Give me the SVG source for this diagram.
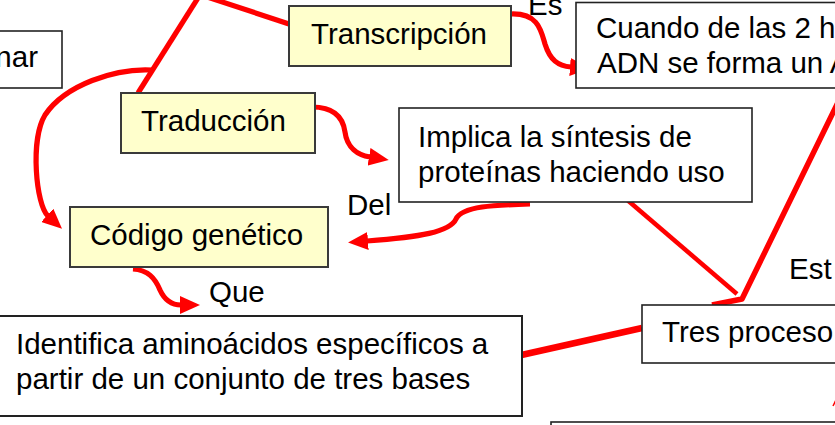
<svg xmlns="http://www.w3.org/2000/svg" width="835" height="425" viewBox="0 0 835 425">
<style>
.box{fill:#ffffff;stroke:#222222;stroke-width:1.6}
.ybox{fill:#ffffcc;stroke:#3a3a3a;stroke-width:2}
.t{font-family:"Liberation Sans",Arial,sans-serif;font-size:29.5px;fill:#000000}
.c{fill:none;stroke:#ff0000;stroke-width:5.2;stroke-linecap:butt;stroke-linejoin:round}
</style>
<defs>
<marker id="arr" markerUnits="userSpaceOnUse" markerWidth="20" markerHeight="18" viewBox="0 0 20 18" refX="1" refY="9" orient="auto">
<path d="M0,0 L20,9 L0,18 z" fill="#ff0000"/>
</marker>
</defs>
<rect width="835" height="425" fill="#ffffff"/>

<g id="connectors">
<path class="c" d="M203,-10 L138,93"/>
<path class="c" d="M186,-10 L289,24"/>
<path class="c" d="M152,70 C115,68 65,85 45,115 C30,140 36,205 48,216" marker-end="url(#arr)"/>
<path class="c" d="M511,14 C538,13 541,30 545,44 C550,60 558,66 571,67" marker-end="url(#arr)"/>
<path class="c" d="M312,107 C334,107 343,117 345,132 C347,148 358,155 370,157" marker-end="url(#arr)"/>
<path class="c" d="M530,204 C495,205 462,206 456,219 C450,232 420,237 367,241" marker-end="url(#arr)"/>
<path class="c" d="M133,269 C148,270 155,278 160,290 C165,301 172,305 181,305" marker-end="url(#arr)"/>
<path class="c" d="M625,198 L737,294" style="stroke-width:4.5"/>
<path class="c" d="M712,305 L742,299 L845,88" style="stroke-width:5.5"/>
<path class="c" d="M517,356 L642,328" style="stroke-width:6.5"/>
<path class="c" d="M833,406 L836,400" style="stroke-width:1.5"/>
</g>

<g id="labels">
<text class="t" x="528" y="15">Es</text>
<text class="t" x="347" y="215">Del</text>
<text class="t" x="209" y="302">Que</text>
<text class="t" x="789" y="279">Est</text>
</g>

<g id="node-nar">
<rect class="box" x="-20" y="31" width="82" height="57"/>
<text class="t" x="38" y="67" text-anchor="end">nar</text>
</g>

<g id="node-transcripcion">
<rect class="ybox" x="289" y="6" width="222" height="60"/>
<text class="t" x="311" y="44">Transcripción</text>
</g>

<g id="node-cuando">
<rect class="box" x="576" y="2.5" width="280" height="85.5"/>
<text class="t" x="596" y="38">Cuando de las 2 h</text>
<text class="t" x="597" y="73">ADN se forma un A</text>
</g>

<g id="node-traduccion">
<rect class="ybox" x="121" y="93" width="194" height="60"/>
<text class="t" x="141" y="131">Traducción</text>
</g>

<g id="node-implica">
<rect class="box" x="399" y="108" width="353" height="94"/>
<text class="t" x="418" y="147">Implica la síntesis de</text>
<text class="t" x="418" y="182">proteínas haciendo uso</text>
</g>

<g id="node-codigo">
<rect class="ybox" x="70" y="207" width="258" height="60"/>
<text class="t" x="90" y="245">Código genético</text>
</g>

<g id="node-identifica">
<rect class="box" x="-10" y="316" width="532" height="100" style="stroke-width:2"/>
<text class="t" x="16" y="354">Identifica aminoácidos específicos a</text>
<text class="t" x="16" y="389">partir de un conjunto de tres bases</text>
</g>

<g id="node-tres">
<rect class="box" x="642" y="305" width="220" height="58"/>
<text class="t" x="662" y="342">Tres proceso</text>
</g>

<g id="node-bottom">
<rect class="box" x="551" y="422" width="320" height="40"/>
</g>
</svg>
